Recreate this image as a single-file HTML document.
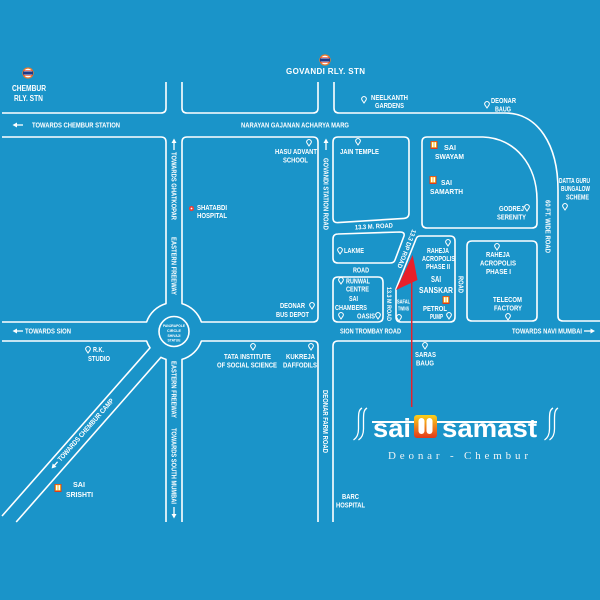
<!DOCTYPE html>
<html><head><meta charset="utf-8"><style>
html,body{margin:0;padding:0;background:#1a94c9}
svg{display:block}
text{font-family:"Liberation Sans",Arial,sans-serif;font-weight:bold;fill:#fff;font-size:7px}
</style></head><body>
<svg width="600" height="600" viewBox="0 0 600 600" xmlns="http://www.w3.org/2000/svg">
<defs>
<linearGradient id="g1" x1="0" y1="0" x2="0" y2="1"><stop offset="0" stop-color="#fbd11a"/><stop offset="1" stop-color="#e2381b"/></linearGradient>
</defs>
<rect width="600" height="600" fill="#1a94c9"/>

<!-- road / block outlines -->
<g fill="none" stroke="#fff" stroke-width="1.6" stroke-linejoin="round">
<path d="M2,113 H161 Q166,113 166,108 V82"/>
<path d="M182,82 V108 Q182,113 187,113 H313 Q318,113 318,108 V82"/>
<path d="M334,82 V108 Q334,113 339,113 H505 C538,113 558,145 558,190 V316 Q558,321 563,321 H600"/>
<path d="M2,137 H161 Q166,137 166,142 V303.6 A29,29 0 0 0 146.6,322 H2"/>
<path d="M187,137 H313 Q318,137 318,142 V317 Q318,322 313,322 H201.4 A29,29 0 0 0 182,303.6 V142 Q182,137 187,137 Z"/>
<path d="M338,137 H404 Q409,137 409,142 V213 Q409,218 404,218.4 L338,222.6 Q333,223 333,218 V142 Q333,137 338,137 Z"/>
<path d="M427,137 H483 C515,138 537,165 537,200 V223 Q537,228 532,228 H427 Q422,228 422,223 V142 Q422,137 427,137 Z"/>
<path d="M338,234 L400,232 Q405,232 404,236 L395,260 Q394,263 390,263 H338 Q333,263 333,258 V239 Q333,234 338,234 Z"/>
<path d="M338,277 H378 Q383,277 383,282 V317 Q383,322 378,322 H338 Q333,322 333,317 V282 Q333,277 338,277 Z"/>
<path d="M420,236 H450 Q455,236 455,241 V317 Q455,322 450,322 H401 Q396,322 396,317 V289 L416,239 Q417,236 420,236 Z"/>
<path d="M472,241 H532 Q537,241 537,246 V316 Q537,321 532,321 H472 Q467,321 467,316 V246 Q467,241 472,241 Z"/>
<path d="M2,341 H146.6 A29,29 0 0 0 150,347.85 L2,516"/>
<path d="M16.2,522 L160.9,357.35 A29,29 0 0 0 166,359.4 V522"/>
<path d="M182,522 V359.4 A29,29 0 0 0 201.4,341 H313 Q318,341 318,346 V522"/>
<path d="M333,522 V346 Q333,341 338,341 H600"/>
<circle cx="174" cy="331.5" r="15"/>
</g>

<!-- roundabout text -->
<g>
<text x="163" y="327" font-size="4" textLength="22" lengthAdjust="spacingAndGlyphs" style="font-size:4px">PANJRAPOLE</text>
<text x="167" y="332" textLength="14" lengthAdjust="spacingAndGlyphs" style="font-size:4px">CIRCLE</text>
<text x="167.5" y="337" textLength="13" lengthAdjust="spacingAndGlyphs" style="font-size:4px">SHIVAJI</text>
<text x="167.5" y="341.5" textLength="13" lengthAdjust="spacingAndGlyphs" style="font-size:4px">STATUE</text>
</g>

<!-- railway icons -->
<g transform="translate(28,73)"><circle r="5" fill="#fff" stroke="#f07a2a" stroke-width="1.3"/><rect x="-5" y="-1.6" width="10" height="3.2" fill="#1d3a8a"/><line x1="-4.5" y1="-2.3" x2="4.5" y2="-2.3" stroke="#e8412a" stroke-width="0.7"/><line x1="-4.5" y1="2.3" x2="4.5" y2="2.3" stroke="#e8412a" stroke-width="0.7"/></g>
<g transform="translate(325,60)"><circle r="5" fill="#fff" stroke="#f07a2a" stroke-width="1.3"/><rect x="-5" y="-1.6" width="10" height="3.2" fill="#1d3a8a"/><line x1="-4.5" y1="-2.3" x2="4.5" y2="-2.3" stroke="#e8412a" stroke-width="0.7"/><line x1="-4.5" y1="2.3" x2="4.5" y2="2.3" stroke="#e8412a" stroke-width="0.7"/></g>

<!-- pins -->
<g fill="none" stroke="#fff" stroke-width="1">
<path transform="translate(364,99)" d="M0,4 L-1.9,1.2 A2.3,2.3 0 1 1 1.9,1.2 Z"/>
<path transform="translate(487,104)" d="M0,4 L-1.9,1.2 A2.3,2.3 0 1 1 1.9,1.2 Z"/>
<path transform="translate(309,142)" d="M0,4 L-1.9,1.2 A2.3,2.3 0 1 1 1.9,1.2 Z"/>
<path transform="translate(358,141)" d="M0,4 L-1.9,1.2 A2.3,2.3 0 1 1 1.9,1.2 Z"/>
<path transform="translate(527,207)" d="M0,4 L-1.9,1.2 A2.3,2.3 0 1 1 1.9,1.2 Z"/>
<path transform="translate(565,206)" d="M0,4 L-1.9,1.2 A2.3,2.3 0 1 1 1.9,1.2 Z"/>
<path transform="translate(340,250)" d="M0,4 L-1.9,1.2 A2.3,2.3 0 1 1 1.9,1.2 Z"/>
<path transform="translate(341,280)" d="M0,4 L-1.9,1.2 A2.3,2.3 0 1 1 1.9,1.2 Z"/>
<path transform="translate(341,315)" d="M0,4 L-1.9,1.2 A2.3,2.3 0 1 1 1.9,1.2 Z"/>
<path transform="translate(378,315)" d="M0,4 L-1.9,1.2 A2.3,2.3 0 1 1 1.9,1.2 Z"/>
<path transform="translate(448,242)" d="M0,4 L-1.9,1.2 A2.3,2.3 0 1 1 1.9,1.2 Z"/>
<path transform="translate(399,317)" d="M0,4 L-1.9,1.2 A2.3,2.3 0 1 1 1.9,1.2 Z"/>
<path transform="translate(449,315)" d="M0,4 L-1.9,1.2 A2.3,2.3 0 1 1 1.9,1.2 Z"/>
<path transform="translate(497,246)" d="M0,4 L-1.9,1.2 A2.3,2.3 0 1 1 1.9,1.2 Z"/>
<path transform="translate(508,316)" d="M0,4 L-1.9,1.2 A2.3,2.3 0 1 1 1.9,1.2 Z"/>
<path transform="translate(88,349)" d="M0,4 L-1.9,1.2 A2.3,2.3 0 1 1 1.9,1.2 Z"/>
<path transform="translate(312,305)" d="M0,4 L-1.9,1.2 A2.3,2.3 0 1 1 1.9,1.2 Z"/>
<path transform="translate(253,346)" d="M0,4 L-1.9,1.2 A2.3,2.3 0 1 1 1.9,1.2 Z"/>
<path transform="translate(311,346)" d="M0,4 L-1.9,1.2 A2.3,2.3 0 1 1 1.9,1.2 Z"/>
<path transform="translate(425,345)" d="M0,4 L-1.9,1.2 A2.3,2.3 0 1 1 1.9,1.2 Z"/>
</g>

<!-- Shatabdi red dot -->
<circle cx="191.5" cy="208.5" r="2.6" fill="#e8413a"/><circle cx="191.5" cy="208.5" r="0.9" fill="#fff"/>

<!-- small Sai icons -->
<g transform="translate(434,145)"><rect x="-3.5" y="-4" width="7" height="8" fill="#e03a1e"/><rect x="-2.8" y="-3.3" width="5.6" height="6" fill="#f9b81b"/><rect x="-2" y="-2.8" width="1.5" height="5" fill="#fff"/><rect x="0.5" y="-2.8" width="1.5" height="5" fill="#fff"/></g>
<g transform="translate(433,180)"><rect x="-3.5" y="-4" width="7" height="8" fill="#e03a1e"/><rect x="-2.8" y="-3.3" width="5.6" height="6" fill="#f9b81b"/><rect x="-2" y="-2.8" width="1.5" height="5" fill="#fff"/><rect x="0.5" y="-2.8" width="1.5" height="5" fill="#fff"/></g>
<g transform="translate(446,300)"><rect x="-3.5" y="-4" width="7" height="8" fill="#e03a1e"/><rect x="-2.8" y="-3.3" width="5.6" height="6" fill="#f9b81b"/><rect x="-2" y="-2.8" width="1.5" height="5" fill="#fff"/><rect x="0.5" y="-2.8" width="1.5" height="5" fill="#fff"/></g>
<g transform="translate(58,488)"><rect x="-3.5" y="-4" width="7" height="8" fill="#e03a1e"/><rect x="-2.8" y="-3.3" width="5.6" height="6" fill="#f9b81b"/><rect x="-2" y="-2.8" width="1.5" height="5" fill="#fff"/><rect x="0.5" y="-2.8" width="1.5" height="5" fill="#fff"/></g>

<!-- arrows -->
<g fill="#fff" stroke="#fff" stroke-width="1.3">
<polygon points="12.5,125 17,122.5 17,127.5" stroke="none"/><line x1="16" y1="125" x2="23" y2="125"/>
<polygon points="12.5,331 17,328.5 17,333.5" stroke="none"/><line x1="16" y1="331" x2="23" y2="331"/>
<polygon points="595,331 590.5,328.5 590.5,333.5" stroke="none"/><line x1="584" y1="331" x2="591.5" y2="331"/>
<polygon points="174,138.5 171.5,143 176.5,143" stroke="none"/><line x1="174" y1="142" x2="174" y2="150"/>
<polygon points="326,138.5 323.5,143 328.5,143" stroke="none"/><line x1="326" y1="142" x2="326" y2="150"/>
<polygon points="174,518.5 171.5,514 176.5,514" stroke="none"/><line x1="174" y1="507" x2="174" y2="515"/>
</g>

<!-- horizontal labels -->
<text x="12" y="91" style="font-size:8px" textLength="34" lengthAdjust="spacingAndGlyphs">CHEMBUR</text>
<text x="14" y="101" style="font-size:8px" textLength="29" lengthAdjust="spacingAndGlyphs">RLY. STN</text>
<text x="286" y="74" style="font-size:8px" textLength="79" lengthAdjust="spacing">GOVANDI RLY. STN</text>
<text x="371" y="100" textLength="37" lengthAdjust="spacingAndGlyphs">NEELKANTH</text>
<text x="375" y="108" textLength="29" lengthAdjust="spacingAndGlyphs">GARDENS</text>
<text x="491" y="103" textLength="25" lengthAdjust="spacingAndGlyphs">DEONAR</text>
<text x="495" y="111.5" textLength="16" lengthAdjust="spacingAndGlyphs">BAUG</text>
<text x="241" y="127.5" textLength="108" lengthAdjust="spacingAndGlyphs">NARAYAN GAJANAN ACHARYA MARG</text>
<text x="32" y="127.5" textLength="88" lengthAdjust="spacingAndGlyphs">TOWARDS CHEMBUR STATION</text>
<text x="275" y="154" textLength="42" lengthAdjust="spacingAndGlyphs">HASU ADVANT</text>
<text x="283" y="162.5" textLength="25" lengthAdjust="spacingAndGlyphs">SCHOOL</text>
<text x="340" y="154" textLength="39" lengthAdjust="spacingAndGlyphs">JAIN TEMPLE</text>
<text x="197" y="210" textLength="30" lengthAdjust="spacingAndGlyphs">SHATABDI</text>
<text x="197" y="218" textLength="30" lengthAdjust="spacingAndGlyphs">HOSPITAL</text>
<text x="444" y="150" style="font-size:7.5px" textLength="12" lengthAdjust="spacingAndGlyphs">SAI</text>
<text x="435" y="159" style="font-size:7.5px" textLength="29" lengthAdjust="spacingAndGlyphs">SWAYAM</text>
<text x="441" y="185" style="font-size:7.5px" textLength="11" lengthAdjust="spacingAndGlyphs">SAI</text>
<text x="430" y="194" style="font-size:7.5px" textLength="33" lengthAdjust="spacingAndGlyphs">SAMARTH</text>
<text x="499" y="211" textLength="25" lengthAdjust="spacingAndGlyphs">GODREJ</text>
<text x="497" y="219.5" textLength="29" lengthAdjust="spacingAndGlyphs">SERENITY</text>
<text x="559" y="183" textLength="31" lengthAdjust="spacingAndGlyphs">DATTA GURU</text>
<text x="561" y="191" textLength="29" lengthAdjust="spacingAndGlyphs">BUNGALOW</text>
<text x="566" y="199.5" textLength="23" lengthAdjust="spacingAndGlyphs">SCHEME</text>
<text x="344" y="253" textLength="20" lengthAdjust="spacingAndGlyphs">LAKME</text>
<text x="353" y="272.5" textLength="16" lengthAdjust="spacingAndGlyphs">ROAD</text>
<text x="346" y="283.5" textLength="24" lengthAdjust="spacingAndGlyphs">RUNWAL</text>
<text x="346" y="291.5" textLength="23" lengthAdjust="spacingAndGlyphs">CENTRE</text>
<text x="349" y="301" textLength="9" lengthAdjust="spacingAndGlyphs">SAI</text>
<text x="335" y="310" textLength="32" lengthAdjust="spacingAndGlyphs">CHAMBERS</text>
<text x="357" y="318.5" textLength="18" lengthAdjust="spacingAndGlyphs">OASIS</text>
<text x="427" y="253" textLength="22" lengthAdjust="spacingAndGlyphs">RAHEJA</text>
<text x="422" y="261" textLength="33" lengthAdjust="spacingAndGlyphs">ACROPOLIS</text>
<text x="426" y="269" textLength="24" lengthAdjust="spacingAndGlyphs">PHASE II</text>
<text x="431" y="282" style="font-size:8.5px" textLength="10" lengthAdjust="spacingAndGlyphs">SAI</text>
<text x="419" y="293" style="font-size:8.5px" textLength="34" lengthAdjust="spacingAndGlyphs">SANSKAR</text>
<text x="397" y="303.5" style="font-size:5.5px" textLength="13" lengthAdjust="spacingAndGlyphs">SAFAL</text>
<text x="398" y="310.5" style="font-size:5.5px" textLength="11" lengthAdjust="spacingAndGlyphs">TWINS</text>
<text x="423" y="311" textLength="24" lengthAdjust="spacingAndGlyphs">PETROL</text>
<text x="430" y="319" textLength="13" lengthAdjust="spacingAndGlyphs">PUMP</text>
<text x="486" y="257" textLength="24" lengthAdjust="spacingAndGlyphs">RAHEJA</text>
<text x="480" y="265.5" textLength="36" lengthAdjust="spacingAndGlyphs">ACROPOLIS</text>
<text x="486" y="274" textLength="25" lengthAdjust="spacingAndGlyphs">PHASE I</text>
<text x="493" y="302" textLength="29" lengthAdjust="spacingAndGlyphs">TELECOM</text>
<text x="494" y="310.5" textLength="28" lengthAdjust="spacingAndGlyphs">FACTORY</text>
<text x="512" y="333.5" textLength="70" lengthAdjust="spacingAndGlyphs">TOWARDS NAVI MUMBAI</text>
<text x="340" y="333.5" textLength="61" lengthAdjust="spacingAndGlyphs">SION TROMBAY ROAD</text>
<text x="25" y="333.5" textLength="46" lengthAdjust="spacingAndGlyphs">TOWARDS SION</text>
<text x="93" y="352" textLength="11" lengthAdjust="spacingAndGlyphs">R.K.</text>
<text x="88" y="361" textLength="22" lengthAdjust="spacingAndGlyphs">STUDIO</text>
<text x="280" y="308" textLength="25" lengthAdjust="spacingAndGlyphs">DEONAR</text>
<text x="276" y="317" textLength="33" lengthAdjust="spacingAndGlyphs">BUS DEPOT</text>
<text x="224" y="359" textLength="47" lengthAdjust="spacingAndGlyphs">TATA INSTITUTE</text>
<text x="217" y="367.5" textLength="60" lengthAdjust="spacingAndGlyphs">OF SOCIAL SCIENCE</text>
<text x="286" y="359" textLength="29" lengthAdjust="spacingAndGlyphs">KUKREJA</text>
<text x="283" y="367.5" textLength="34" lengthAdjust="spacingAndGlyphs">DAFFODILS</text>
<text x="415" y="357" textLength="21" lengthAdjust="spacingAndGlyphs">SARAS</text>
<text x="416" y="365.5" textLength="18" lengthAdjust="spacingAndGlyphs">BAUG</text>
<text x="342" y="499" textLength="17" lengthAdjust="spacingAndGlyphs">BARC</text>
<text x="336" y="507.5" textLength="29" lengthAdjust="spacingAndGlyphs">HOSPITAL</text>
<text x="73" y="487" style="font-size:7.5px" textLength="12" lengthAdjust="spacingAndGlyphs">SAI</text>
<text x="66" y="497" style="font-size:7.5px" textLength="27" lengthAdjust="spacingAndGlyphs">SRISHTI</text>

<!-- rotated labels -->
<text transform="translate(171.5,152) rotate(90)" textLength="68" lengthAdjust="spacingAndGlyphs">TOWARDS GHATKOPAR</text>
<text transform="translate(171.5,237) rotate(90)" textLength="58" lengthAdjust="spacingAndGlyphs">EASTERN FREEWAY</text>
<text transform="translate(171.5,361) rotate(90)" textLength="57" lengthAdjust="spacingAndGlyphs">EASTERN FREEWAY</text>
<text transform="translate(171.5,428) rotate(90)" textLength="76" lengthAdjust="spacingAndGlyphs">TOWARDS SOUTH MUMBAI</text>
<text transform="translate(323.5,158) rotate(90)" textLength="72" lengthAdjust="spacingAndGlyphs">GOVANDI STATION ROAD</text>
<text transform="translate(323,390) rotate(90)" textLength="63" lengthAdjust="spacingAndGlyphs">DEONAR FARM ROAD</text>
<text transform="translate(545.5,200) rotate(90)" textLength="53" lengthAdjust="spacingAndGlyphs">60 FT. WIDE ROAD</text>
<text transform="translate(458.5,276) rotate(90)" textLength="17" lengthAdjust="spacingAndGlyphs">ROAD</text>
<text transform="translate(387,287) rotate(90)" style="font-size:6.5px" textLength="34" lengthAdjust="spacingAndGlyphs">13.3 M ROAD</text>
<text transform="translate(355,229.5) rotate(-3)" style="font-size:6.5px" textLength="38" lengthAdjust="spacingAndGlyphs">13.3 M. ROAD</text>
<text transform="translate(412.2,229) rotate(111.5)" style="font-size:6.5px" textLength="41" lengthAdjust="spacingAndGlyphs">13.3 DP ROAD</text>
<g transform="translate(53.5,470.2) rotate(-48.7)">
<polygon points="0,-2.5 4.5,-5 4.5,0" fill="#fff"/><line x1="3.5" y1="-2.5" x2="9" y2="-2.5" stroke="#fff" stroke-width="1.3"/>
<text x="11" y="0" textLength="81" lengthAdjust="spacingAndGlyphs">TOWARDS CHEMBUR CAMP</text>
</g>

<!-- red arrow -->
<line x1="411.7" y1="282" x2="411.7" y2="407" stroke="#e8202a" stroke-width="1.5"/>
<polygon points="412.7,255 417.5,280 396,290" fill="#e8202a"/>

<!-- logo -->
<g fill="none" stroke="#fff" stroke-width="1.3">
<path d="M362,408 C358.5,410 358.5,414 358.5,420 L358.5,429 C358.5,435 356.5,438 353.5,440"/>
<path d="M367,408 C363.5,410 363.5,414 363.5,420 L363.5,429 C363.5,435 361.5,438 358.5,440"/>
<path d="M553,408 C549.5,410 549.5,414 549.5,420 L549.5,429 C549.5,435 547.5,438 544.5,440"/>
<path d="M558,408 C554.5,410 554.5,414 554.5,420 L554.5,429 C554.5,435 552.5,438 549.5,440"/>
</g>
<rect x="372" y="421" width="165" height="2" fill="#fff"/>
<text x="373" y="437" style="font-size:26px" textLength="38" lengthAdjust="spacingAndGlyphs">sai</text>
<text x="442" y="437" style="font-size:26px" textLength="95" lengthAdjust="spacingAndGlyphs">samast</text>
<rect x="414" y="415" width="23" height="23" rx="3" fill="url(#g1)"/>
<rect x="418.5" y="418" width="6" height="16" rx="3" fill="#fff"/>
<rect x="426.5" y="418" width="6" height="16" rx="3" fill="#fff"/>
<text x="388" y="459" style="font-family:'Liberation Serif',serif;font-weight:normal;font-size:11px;fill:#eef3f5" textLength="140" lengthAdjust="spacing">Deonar - Chembur</text>
</svg>
</body></html>
